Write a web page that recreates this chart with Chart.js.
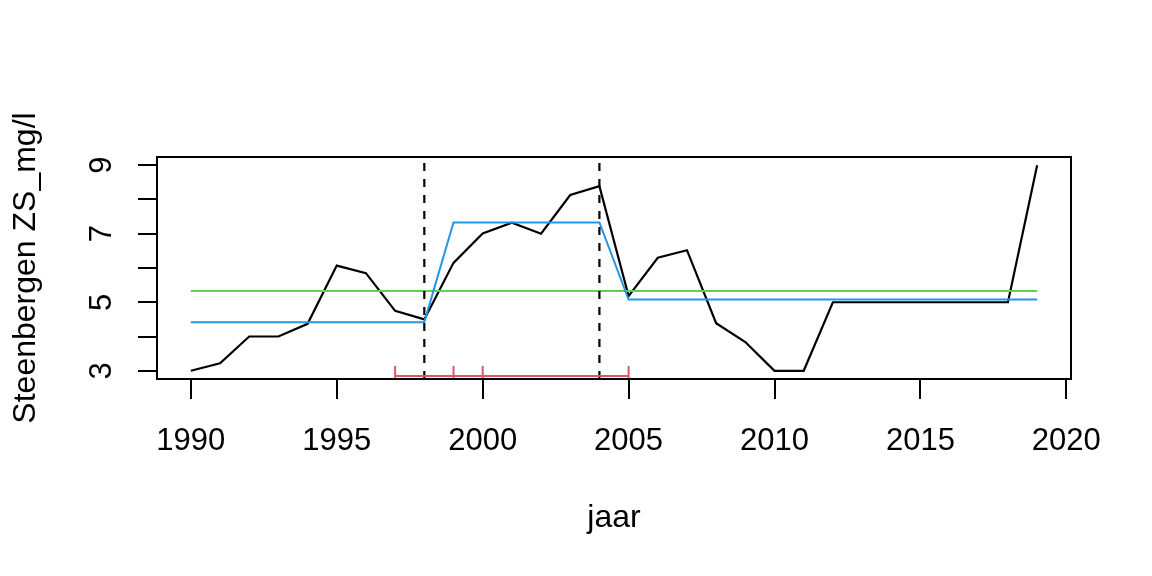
<!DOCTYPE html>
<html lang="nl">
<head>
    <meta charset="UTF-8">
    <title>Steenbergen ZS_mg/l</title>
    <script src="https://cdn.jsdelivr.net/npm/chart.js@4.4.0/dist/chart.umd.min.js"></script>
    <style>
        html, body { margin: 0; padding: 0; background: #fff; }
        .chart-container { position: relative; width: 1152px; height: 576px; }
    </style>
</head>
<body>

<div class="chart-container">
    <canvas id="zsChart"></canvas>
</div>

<script>
// Gegevens
const jaren = [1990, 1991, 1992, 1993, 1994, 1995, 1996, 1997, 1998, 1999,
               2000, 2001, 2002, 2003, 2004, 2005, 2006, 2007, 2008, 2009,
               2010, 2011, 2012, 2013, 2014, 2015, 2016, 2017, 2018, 2019];
const zsWaarden = [3.0, 3.22, 4.0, 4.0, 4.37, 6.07, 5.85, 4.75, 4.5, 6.15,
                   7.01, 7.32, 7.0, 8.13, 8.39, 5.18, 6.3, 6.52, 4.39, 3.84,
                   3.0, 3.0, 5.0, 5.0, 5.0, 5.0, 5.0, 5.0, 5.0, 9.0];
const gemiddelde = 5.33;
const breekpunten = [1998, 2004];
const segmentNiveaus = [4.42, 7.33, 5.08];
const intervallen = [[1997, 2000], [1999, 2005]];
const intervalHoogte = 2.85;

const xTicks = [1990, 1995, 2000, 2005, 2010, 2015, 2020];
const yTicks = [3, 4, 5, 6, 7, 8, 9];
const yLabels = [3, 5, 7, 9];

const xMin = 1988.84, xMax = 2020.16;
const yMin = 2.76, yMax = 9.24;

const FONT = '31px "Liberation Sans", Arial, sans-serif';
const TITEL_FONT = '32px "Liberation Sans", Arial, sans-serif';

// Lijnen opbouwen
const zsData = jaren.map((j, i) => ({ x: j, y: zsWaarden[i] }));
const fitData = jaren.map(j => {
    let k = 0;
    while (k < breekpunten.length && j > breekpunten[k]) k++;
    return { x: j, y: segmentNiveaus[k] };
});
const gemData = [{ x: jaren[0], y: gemiddelde }, { x: jaren[jaren.length - 1], y: gemiddelde }];

const datasets = [
    { data: zsData, borderColor: '#000000', borderWidth: 2.2, order: 5 },
    { data: gemData, borderColor: '#61D04F', borderWidth: 2, order: 4 },
    { data: fitData, borderColor: '#2297E6', borderWidth: 2, order: 3 }
];
breekpunten.forEach(b => {
    datasets.push({
        data: [{ x: b, y: yMin }, { x: b, y: yMax }],
        borderColor: '#000000', borderWidth: 2.2, borderDash: [8, 8], order: 2
    });
});
intervallen.forEach(iv => {
    datasets.push({
        data: iv.map(v => ({ x: v, y: intervalHoogte })),
        borderColor: '#DF536B', borderWidth: 2, order: 1,
        pointStyle: 'line', pointRadius: 10, pointRotation: 90,
        pointBorderColor: '#DF536B', pointBorderWidth: 2
    });
});
datasets.forEach(d => {
    if (d.pointRadius === undefined) d.pointRadius = 0;
    d.tension = 0;
    d.fill = false;
});

// R-achtige kader en teksten
const kaderPlugin = {
    id: 'kader',
    afterDraw(chart) {
        const ctx = chart.ctx;
        const a = chart.chartArea;
        const xs = chart.scales.x, ys = chart.scales.y;
        ctx.save();
        ctx.strokeStyle = '#000';
        ctx.lineWidth = 2;
        ctx.strokeRect(a.left, a.top, a.right - a.left, a.bottom - a.top);

        ctx.fillStyle = '#000';
        ctx.font = FONT;
        ctx.textAlign = 'center';
        ctx.textBaseline = 'alphabetic';
        xTicks.forEach(v => ctx.fillText(String(v), xs.getPixelForValue(v), 450));
        ctx.font = TITEL_FONT;
        ctx.fillText('jaar', (a.left + a.right) / 2, 527);

        ctx.font = FONT;
        yLabels.forEach(v => {
            ctx.save();
            ctx.translate(111, ys.getPixelForValue(v));
            ctx.rotate(-Math.PI / 2);
            ctx.fillText(String(v), 0, 0);
            ctx.restore();
        });
        ctx.font = TITEL_FONT;
        ctx.save();
        ctx.translate(35, (a.top + a.bottom) / 2);
        ctx.rotate(-Math.PI / 2);
        ctx.fillText('Steenbergen ZS_mg/l', 0, 0);
        ctx.restore();
        ctx.restore();
    }
};

new Chart(document.getElementById('zsChart'), {
    type: 'line',
    data: { datasets: datasets },
    options: {
        responsive: true,
        maintainAspectRatio: false,
        animation: false,
        devicePixelRatio: 1,
        layout: { padding: { top: 157, right: 81, left: 0, bottom: 0 } },
        scales: {
            x: {
                type: 'linear',
                min: xMin,
                max: xMax,
                afterBuildTicks: s => { s.ticks = xTicks.map(v => ({ value: v })); },
                afterFit: s => { s.height = 576 - 379; },
                ticks: { display: false },
                border: { display: false },
                grid: { drawOnChartArea: false, drawTicks: true, tickLength: 20, color: '#000', lineWidth: 2 }
            },
            y: {
                type: 'linear',
                min: yMin,
                max: yMax,
                afterBuildTicks: s => { s.ticks = yTicks.map(v => ({ value: v })); },
                afterFit: s => { s.width = 157; },
                ticks: { display: false },
                border: { display: false },
                grid: { drawOnChartArea: false, drawTicks: true, tickLength: 19, color: '#000', lineWidth: 2 }
            }
        },
        plugins: {
            legend: { display: false },
            tooltip: { enabled: false }
        }
    },
    plugins: [kaderPlugin]
});
</script>
</body>
</html>
